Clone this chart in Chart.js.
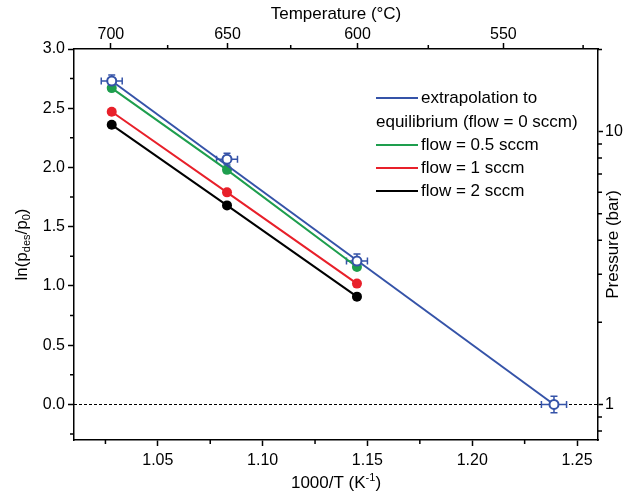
<!DOCTYPE html>
<html>
<head>
<meta charset="utf-8">
<script src="https://cdn.jsdelivr.net/npm/chart.js@4.4.0/dist/chart.umd.min.js"></script>
<style>
  html, body { margin: 0; padding: 0; background: #fff; }
  #wrap { width: 623px; height: 492px; }
</style>
</head>
<body>
<div id="wrap"><canvas id="grafico"></canvas></div>
<script>
const invT = [1.028, 1.083, 1.145];
const lnFlujo05 = [2.67, 1.98, 1.16];
const lnFlujo1 = [2.47, 1.79, 1.02];
const lnFlujo2 = [2.36, 1.68, 0.91];

// Puntos de equilibrio (flujo = 0) con barras de error, el ultimo extrapolado
const invTEq = [1.028, 1.083, 1.145, 1.239];
const lnEq = [2.73, 2.07, 1.21, 0.0];
const errX = [0.005, 0.005, 0.005, 0.006];
const errY = [0.05, 0.05, 0.06, 0.07];

// Recta de extrapolacion
const invTAjuste = [1.028, 1.239];
const lnAjuste = [2.73, 0.0];

// Ejes
const xMin = 1.01, xMax = 1.26;
const yMin = -0.3, yMax = 3.0;
const ticksX = [1.05, 1.10, 1.15, 1.20, 1.25];
const menoresX = [1.025, 1.075, 1.125, 1.175, 1.225];
const ticksY = [0, 0.5, 1.0, 1.5, 2.0, 2.5, 3.0];
const menoresY = [-0.25, 0.25, 0.75, 1.25, 1.75, 2.25, 2.75];
const ticksTemp = [700, 650, 600, 550];
const menoresTemp = [675, 625, 575, 525];
const ticksPres = [1, 10];
const menoresPres = [0.8, 0.9, 2, 3, 4, 5, 6, 7, 8, 9, 20];

const fuente = "'Liberation Sans', Arial, Helvetica, sans-serif";
const azul = "#3553a8";
const verde = "#1e9e4e";
const rojo = "#e8202a";
const negro = "#000000";

const toXY = (xs, ys) => xs.map((x, i) => ({ x: x, y: ys[i] }));
const tempAInvT = (t) => 1000 / (t + 273.15);

// Dibuja texto con subindices / superindices centrado en (x, y)
function textoRico(ctx, partes, x, y) {
  let total = 0;
  partes.forEach((p) => {
    ctx.font = (p[1] === "n" ? "17px " : "11px ") + fuente;
    p.w = ctx.measureText(p[0]).width;
    total += p.w;
  });
  let cx = x - total / 2;
  ctx.textAlign = "left";
  ctx.textBaseline = "middle";
  partes.forEach((p) => {
    ctx.font = (p[1] === "n" ? "17px " : "11px ") + fuente;
    let dy = p[1] === "sub" ? 5 : p[1] === "sup" ? -5 : 0;
    ctx.fillText(p[0], cx, y + dy);
    cx += p.w;
  });
}

const decoracion = {
  id: "decoracion",
  beforeDatasetsDraw(chart) {
    const { ctx, chartArea, scales } = chart;
    const x = scales.x, y = scales.y;
    ctx.save();
    // linea punteada en ln(p/p0) = 0
    ctx.strokeStyle = "#000";
    ctx.lineWidth = 1;
    ctx.setLineDash([3, 2]);
    const y0 = Math.round(y.getPixelForValue(0)) + 0.5;
    ctx.beginPath();
    ctx.moveTo(chartArea.left, y0);
    ctx.lineTo(chartArea.right, y0);
    ctx.stroke();
    ctx.setLineDash([]);
    // barras de error
    ctx.strokeStyle = azul;
    ctx.lineWidth = 1.5;
    invTEq.forEach((v, i) => {
      const px = x.getPixelForValue(v), py = y.getPixelForValue(lnEq[i]);
      const x1 = x.getPixelForValue(v - errX[i]), x2 = x.getPixelForValue(v + errX[i]);
      const y1 = y.getPixelForValue(lnEq[i] + errY[i]), y2 = y.getPixelForValue(lnEq[i] - errY[i]);
      ctx.beginPath();
      ctx.moveTo(x1, py); ctx.lineTo(x2, py);
      ctx.moveTo(x1, py - 3.5); ctx.lineTo(x1, py + 3.5);
      ctx.moveTo(x2, py - 3.5); ctx.lineTo(x2, py + 3.5);
      ctx.moveTo(px, y1); ctx.lineTo(px, y2);
      ctx.moveTo(px - 3.5, y1); ctx.lineTo(px + 3.5, y1);
      ctx.moveTo(px - 3.5, y2); ctx.lineTo(px + 3.5, y2);
      ctx.stroke();
    });
    ctx.restore();
  },
  afterDraw(chart) {
    const { ctx, chartArea, scales } = chart;
    const a = chartArea;
    ctx.save();
    ctx.strokeStyle = "#000";
    ctx.lineWidth = 1.5;
    ctx.beginPath();
    // ticks menores
    menoresX.forEach((v) => {
      const p = scales.x.getPixelForValue(v);
      ctx.moveTo(p, a.bottom); ctx.lineTo(p, a.bottom + 4);
    });
    menoresTemp.forEach((t) => {
      const p = scales.x2.getPixelForValue(tempAInvT(t));
      ctx.moveTo(p, a.top); ctx.lineTo(p, a.top - 4);
    });
    menoresY.forEach((v) => {
      const p = scales.y.getPixelForValue(v);
      ctx.moveTo(a.left, p); ctx.lineTo(a.left - 4, p);
    });
    menoresPres.forEach((pr) => {
      const p = scales.y2.getPixelForValue(Math.log(pr));
      ctx.moveTo(a.right, p); ctx.lineTo(a.right + 4, p);
    });
    ctx.stroke();

    // titulos de los ejes
    ctx.fillStyle = "#000";
    const cx = (a.left + a.right) / 2, cy = (a.top + a.bottom) / 2;
    textoRico(ctx, [["Temperature (°C)", "n"]], cx, 14);
    textoRico(ctx, [["1000/T (K", "n"], ["-1", "sup"], [")", "n"]], cx, 483);
    ctx.save();
    ctx.translate(22, cy);
    ctx.rotate(-Math.PI / 2);
    textoRico(ctx, [["ln(p", "n"], ["des", "sub"], ["/p", "n"], ["0", "sub"], [")", "n"]], 0, 0);
    ctx.restore();
    ctx.save();
    ctx.translate(613, cy);
    ctx.rotate(-Math.PI / 2);
    textoRico(ctx, [["Pressure (bar)", "n"]], 0, 0);
    ctx.restore();

    // leyenda
    const filas = [
      { color: azul, texto: "extrapolation to", y: 98 },
      { color: null, texto: "equilibrium (flow = 0 sccm)", y: 122 },
      { color: verde, texto: "flow = 0.5 sccm", y: 145 },
      { color: rojo, texto: "flow = 1 sccm", y: 168 },
      { color: negro, texto: "flow = 2 sccm", y: 191 },
    ];
    ctx.font = "17px " + fuente;
    ctx.textBaseline = "middle";
    ctx.textAlign = "left";
    filas.forEach((f) => {
      if (f.color) {
        ctx.strokeStyle = f.color;
        ctx.lineWidth = 2;
        ctx.beginPath();
        ctx.moveTo(376, f.y);
        ctx.lineTo(418, f.y);
        ctx.stroke();
        ctx.fillText(f.texto, 421, f.y);
      } else {
        ctx.fillText(f.texto, 376, f.y);
      }
    });
    ctx.restore();
  },
};

const estiloTicks = { color: "#000", font: { family: fuente, size: 16 }, autoSkip: false, maxRotation: 0 };
const estiloGrid = { drawOnChartArea: false, tickLength: 6, tickColor: "#000", tickWidth: 1.5 };
const estiloBorde = { color: "#000", width: 1.5 };

function serie(label, ys, color) {
  return {
    label: label,
    data: toXY(invT, ys),
    showLine: true,
    borderColor: color,
    backgroundColor: color,
    borderWidth: 2,
    pointRadius: 5,
    pointBorderWidth: 0,
    pointBackgroundColor: color,
  };
}

const ctx = document.getElementById("grafico").getContext("2d");
const grafico = new Chart(ctx, {
  type: "scatter",
  data: {
    datasets: [
      {
        label: "equilibrio",
        data: toXY(invTEq, lnEq),
        showLine: false,
        pointRadius: 4.5,
        pointBorderWidth: 2,
        pointBorderColor: azul,
        pointBackgroundColor: "#fff",
      },
      {
        label: "extrapolation to equilibrium (flow = 0 sccm)",
        data: toXY(invTAjuste, lnAjuste),
        showLine: true,
        borderColor: azul,
        borderWidth: 2,
        pointRadius: 0,
      },
      serie("flow = 0.5 sccm", lnFlujo05, verde),
      serie("flow = 1 sccm", lnFlujo1, rojo),
      serie("flow = 2 sccm", lnFlujo2, negro),
    ],
  },
  options: {
    responsive: true,
    maintainAspectRatio: false,
    animation: false,
    layout: { padding: 0 },
    plugins: { legend: { display: false }, tooltip: { enabled: false } },
    scales: {
      x: {
        type: "linear", position: "bottom", min: xMin, max: xMax,
        afterBuildTicks: (s) => { s.ticks = ticksX.map((v) => ({ value: v })); },
        afterFit: (s) => { s.height = 52; },
        ticks: { ...estiloTicks, padding: 5, callback: (v) => v.toFixed(2) },
        grid: estiloGrid, border: estiloBorde,
      },
      x2: {
        type: "linear", position: "top", min: xMin, max: xMax,
        afterBuildTicks: (s) => { s.ticks = ticksTemp.map((t) => ({ value: tempAInvT(t) })); },
        afterFit: (s) => { s.height = 49; },
        ticks: { ...estiloTicks, padding: -1, callback: (v) => String(Math.round(1000 / v - 273.15)) },
        grid: estiloGrid, border: estiloBorde,
      },
      y: {
        type: "linear", position: "left", min: yMin, max: yMax,
        afterBuildTicks: (s) => { s.ticks = ticksY.map((v) => ({ value: v })); },
        afterFit: (s) => { s.width = 74; },
        ticks: { ...estiloTicks, padding: 3, callback: (v) => v.toFixed(1) },
        grid: estiloGrid, border: estiloBorde,
      },
      y2: {
        type: "linear", position: "right", min: yMin, max: yMax,
        afterBuildTicks: (s) => { s.ticks = ticksPres.map((p) => ({ value: Math.log(p) })); },
        afterFit: (s) => { s.width = 25; },
        ticks: { ...estiloTicks, padding: 2, callback: (v) => String(Math.round(Math.exp(v))) },
        grid: { ...estiloGrid, tickLength: 5 }, border: estiloBorde,
      },
    },
  },
  plugins: [decoracion],
});
</script>
</body>
</html>
